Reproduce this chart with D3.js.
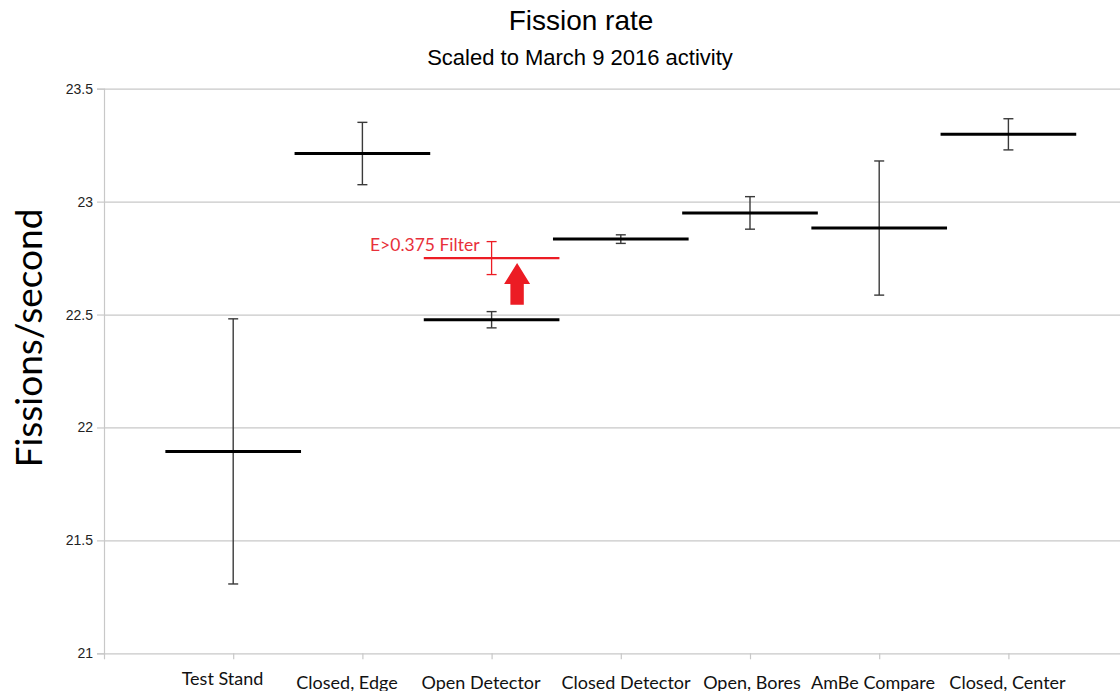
<!DOCTYPE html>
<html>
<head>
<meta charset="utf-8">
<script src="https://cdn.jsdelivr.net/npm/d3@7"></script>
<style>
  html, body { margin: 0; padding: 0; background: #fff; }
  svg { display: block; }
</style>
</head>
<body>
<svg id="chart" width="1120" height="691"></svg>
<script>
// ---- data ----
const categories = ["Test Stand", "Closed, Edge", "Open Detector", "Closed Detector", "Open, Bores", "AmBe Compare", "Closed, Center"];
const rates      = [21.894, 23.213, 22.477, 22.834, 22.950, 22.883, 23.298];
const errors     = [0.587, 0.138, 0.036, 0.019, 0.072, 0.297, 0.069];
const filterLabel = "E>0.375 Filter";
const filterCategory = "Open Detector";
const filterRate  = [22.750];
const filterError = [0.073];
const yTicks = [21, 21.5, 22, 22.5, 23, 23.5];
const yTickLabels = ["21", "21.5", "22", "22.5", "23", "23.5"];
const barHalfWidth = 0.525; // in category units

// ---- layout ----
const labelNudge = [-10.7, -15.4, -10.6, 5.2, 2, -6.2, -0.9]; // px shift of category labels from their ticks
const svg = d3.select("#chart");
const W = 1120, H = 691;
svg.append("rect").attr("width", W).attr("height", H).attr("fill", "#fff");

const x = d3.scaleLinear().domain([0, 8]).range([104, 104 + 8 * 129.2]);
const y = d3.scaleLinear().domain([21, 23.5]).range([653.3, 88.7]);

const grid = "#c8c8c8";

// gridlines
svg.append("g").selectAll("line").data(yTicks.slice(1)).join("line")
  .attr("x1", x(0)).attr("x2", x(8))
  .attr("y1", d => y(d) + 0.5).attr("y2", d => y(d) + 0.5)
  .attr("stroke", grid).attr("stroke-width", 1.2);

// y axis
const yAxis = d3.axisLeft(y).tickValues(yTicks).tickFormat((d, i) => yTickLabels[i]).tickSize(7).tickPadding(4);
const gy = svg.append("g").attr("transform", `translate(${x(0)},0)`).call(yAxis);
gy.select(".domain").attr("stroke", grid).attr("stroke-width", 1.2);
gy.selectAll(".tick line").attr("stroke", grid).attr("stroke-width", 1.2);
gy.selectAll(".tick text").attr("font-family", "'Liberation Sans', Arial, sans-serif")
  .attr("font-size", 14).attr("fill", "#222");

// x axis (categories at 1..7)
const catIdx = categories.map((c, i) => i + 1);
const xAxis = d3.axisBottom(x).tickValues([0].concat(catIdx)).tickFormat("").tickSize(6).tickSizeOuter(0);
const gx = svg.append("g").attr("transform", `translate(0,${y(21)})`).call(xAxis);
gx.select(".domain").attr("stroke", grid).attr("stroke-width", 1.2);
gx.selectAll(".tick line").attr("stroke", grid).attr("stroke-width", 1.2);

// category labels
svg.append("g").selectAll("text").data(categories).join("text")
  .attr("x", (d, i) => x(i + 1) + labelNudge[i])
  .attr("y", (d, i) => i === 0 ? 685 : 688.5)
  .attr("text-anchor", "middle")
  .attr("font-family", "Lato, 'Open Sans', sans-serif")
  .attr("font-size", 18).attr("fill", "#111")
  .text(d => d);

// error bars
const cap = 5;
const eb = svg.append("g").attr("stroke", "#3a3a3a").attr("stroke-width", 1.4);
categories.forEach((c, i) => {
  const cx = x(i + 1);
  const lo = y(rates[i] - errors[i]), hi = y(rates[i] + errors[i]);
  eb.append("line").attr("x1", cx).attr("x2", cx).attr("y1", hi).attr("y2", lo);
  eb.append("line").attr("x1", cx - cap).attr("x2", cx + cap).attr("y1", hi).attr("y2", hi);
  eb.append("line").attr("x1", cx - cap).attr("x2", cx + cap).attr("y1", lo).attr("y2", lo);
});

// horizontal rate bars
svg.append("g").selectAll("line").data(rates).join("line")
  .attr("x1", (d, i) => x(i + 1 - barHalfWidth))
  .attr("x2", (d, i) => x(i + 1 + barHalfWidth))
  .attr("y1", d => y(d)).attr("y2", d => y(d))
  .attr("stroke", "#000").attr("stroke-width", 3);

// filtered point (red)
const red = "#ec1c24";
const fi = categories.indexOf(filterCategory) + 1;
const fg = svg.append("g");
filterRate.forEach((r, k) => {
  const cx = x(fi);
  const lo = y(r - filterError[k]), hi = y(r + filterError[k]);
  fg.append("line").attr("x1", cx).attr("x2", cx).attr("y1", hi).attr("y2", lo).attr("stroke", red).attr("stroke-width", 1.3);
  fg.append("line").attr("x1", cx - cap).attr("x2", cx + cap).attr("y1", hi).attr("y2", hi).attr("stroke", red).attr("stroke-width", 1.3);
  fg.append("line").attr("x1", cx - cap).attr("x2", cx + cap).attr("y1", lo).attr("y2", lo).attr("stroke", red).attr("stroke-width", 1.3);
  fg.append("line").attr("x1", x(fi - barHalfWidth)).attr("x2", x(fi + barHalfWidth))
    .attr("y1", y(r)).attr("y2", y(r)).attr("stroke", red).attr("stroke-width", 2.2);
  fg.append("text").attr("x", 370).attr("y", y(r) - 7)
    .attr("font-family", "Lato, 'Open Sans', sans-serif").attr("font-size", 17.5)
    .attr("fill", "#e8303a").text(filterLabel);

  // arrow from original to filtered
  const ax = x(fi) + 25.5;
  const tipY = y(r) + 5;
  const baseY = y(rates[fi - 1]) - 15;
  const headBase = tipY + 21;
  const sw = 6.7, hw = 13;
  fg.append("path")
    .attr("d", `M${ax},${tipY} L${ax + hw},${headBase} L${ax + sw},${headBase} L${ax + sw},${baseY} L${ax - sw},${baseY} L${ax - sw},${headBase} L${ax - hw},${headBase} Z`)
    .attr("fill", red);
});

// titles
svg.append("text").attr("x", 581).attr("y", 29.5).attr("text-anchor", "middle")
  .attr("font-family", "'Liberation Sans', Arial, sans-serif").attr("font-size", 28).attr("fill", "#000")
  .text("Fission rate");
svg.append("text").attr("x", 580).attr("y", 65).attr("text-anchor", "middle")
  .attr("font-family", "'Liberation Sans', Arial, sans-serif").attr("font-size", 22).attr("fill", "#000")
  .text("Scaled to March 9 2016 activity");

// y axis title
svg.append("text").attr("transform", "translate(42,338) rotate(-90)")
  .attr("text-anchor", "middle")
  .attr("font-family", "Lato, 'Open Sans', sans-serif").attr("font-size", 37).attr("fill", "#000")
  .text("Fissions/second");
</script>
</body>
</html>
